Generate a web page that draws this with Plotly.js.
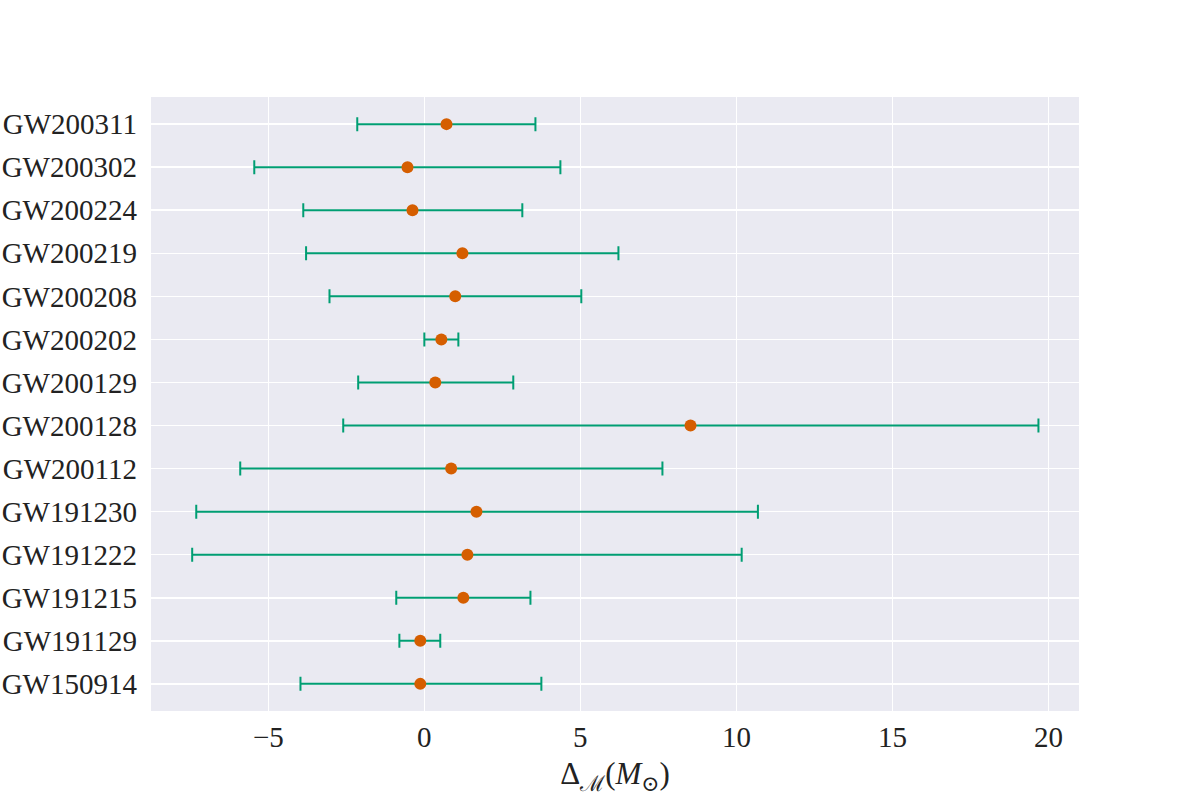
<!DOCTYPE html>
<html>
<head>
<meta charset="utf-8">
<script src="https://cdn.plot.ly/plotly-3.0.1.min.js"></script>
<style>html,body{margin:0;padding:0;background:#fff;}#chart{width:1200px;height:800px;}</style>
</head>
<body>
<div id="chart"></div>
<script>
const events = ["GW150914","GW191129","GW191215","GW191222","GW191230","GW200112","GW200128","GW200129","GW200202","GW200208","GW200219","GW200224","GW200302","GW200311"];
const median = [-0.13,-0.13,1.25,1.38,1.67,0.86,8.53,0.35,0.545,0.99,1.22,-0.38,-0.54,0.71];
const lower  = [-3.97,-0.80,-0.90,-7.44,-7.31,-5.90,-2.60,-2.12,0.0,-3.04,-3.79,-3.88,-5.45,-2.15];
const upper  = [3.75,0.51,3.40,10.17,10.69,7.63,19.68,2.85,1.09,5.03,6.22,3.14,4.36,3.56];
const xTicks = [-5,0,5,10,15,20];

const plus = upper.map((u,i)=>u-median[i]);
const minus = median.map((m,i)=>m-lower[i]);

const trace = {
  type: "scatter",
  mode: "markers",
  x: median,
  y: events,
  marker: {color: "#D55E00", size: 12},
  error_x: {type: "data", symmetric: false, array: plus, arrayminus: minus,
            color: "#009E73", thickness: 2, width: 7},
  showlegend: false
};

const family = "'Liberation Serif', 'DejaVu Serif', serif";
const font = {family: family, size: 29, color: "#222"};
const layout = {
  width: 1200, height: 800,
  margin: {l: 151, r: 121, t: 97, b: 89},
  paper_bgcolor: "#ffffff",
  plot_bgcolor: "#EAEAF2",
  font: font,
  xaxis: {
    range: [-8.76, 20.98],
    tickvals: xTicks,
    ticktext: xTicks.map(v => v < 0 ? "\u2212" + Math.abs(v) : String(v)),
    showgrid: true, gridcolor: "#ffffff", gridwidth: 1.5,
    zeroline: false, showline: false, ticks: "",
    tickfont: font, ticklabelstandoff: 6,
    title: {text: "Δ<sub>ℳ</sub>(<i>M</i><sub>⊙</sub>)", font: {family: family, size: 31, color: "#222"}, standoff: 10}
  },
  yaxis: {
    type: "category",
    categoryorder: "array", categoryarray: events,
    range: [-0.63, 13.63],
    showgrid: true, gridcolor: "#ffffff", gridwidth: 1.5,
    zeroline: false, showline: false, ticks: "",
    tickfont: font, ticklabelstandoff: 13
  }
};

Plotly.newPlot("chart", [trace], layout, {displayModeBar: false, staticPlot: true});
</script>
</body>
</html>
